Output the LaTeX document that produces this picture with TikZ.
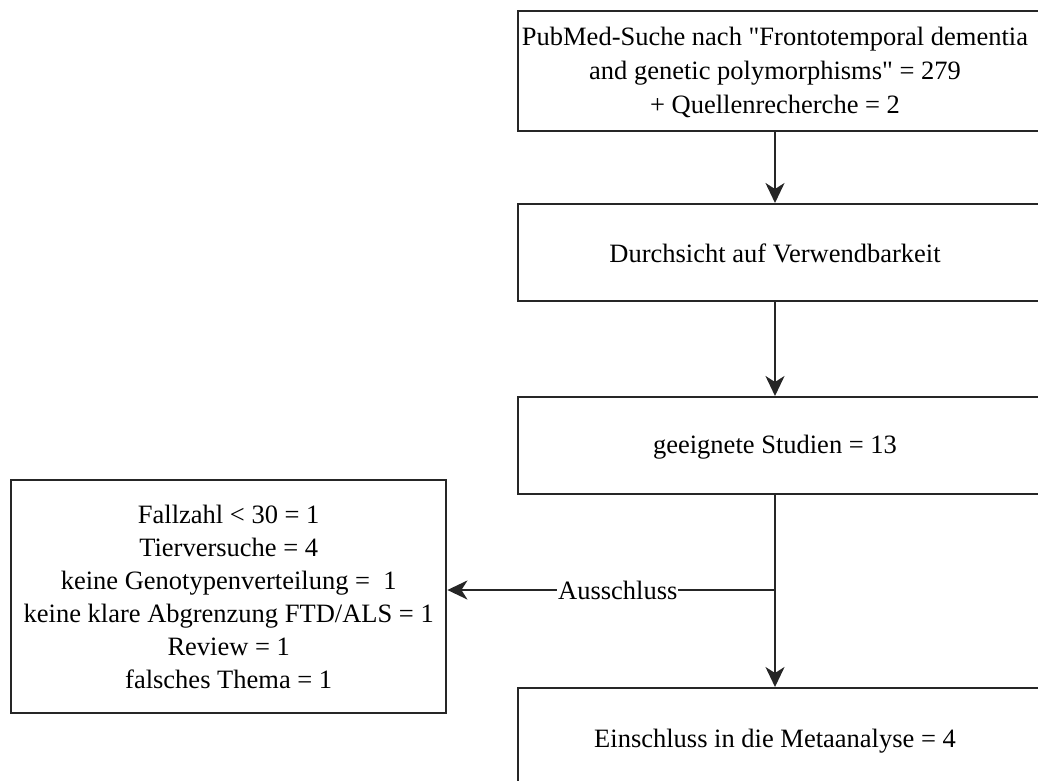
\documentclass[tikz,border=0pt]{standalone}
\usepackage{fontspec}
\setmainfont{Liberation Serif}[Ligatures=TeXOff]
\usetikzlibrary{arrows.meta}
\begin{document}
\begin{tikzpicture}[x=1pt,y=-1pt,
  box/.style={draw=black!85, line width=2.4pt, fill=white, rectangle, inner sep=0pt},
  txt/.style={align=center, inner sep=0pt, font=\fontsize{26.5}{34}\selectfont},
  conn/.style={line width=2.2pt, draw=black!85,
    -{Stealth[length=20pt,width=19pt,inset=6pt]}}
]
\useasboundingbox (0,0) rectangle (1038,780);
\clip (0,0) rectangle (1038,780);
\coordinate (ax) at (775,0);

% main column of boxes (the right edges run past the page)
\node[box, anchor=north west, minimum width=540pt, minimum height=120pt] (b1) at (517,10) {};
\node[box, anchor=north west, minimum width=540pt, minimum height=97pt]  (b2) at (517,203) {};
\node[box, anchor=north west, minimum width=540pt, minimum height=97pt]  (b3) at (517,396) {};
\node[box, anchor=north west, minimum width=540pt, minimum height=113pt] (b4) at (517,687) {};

% exclusion box
\node[box, anchor=north west, minimum width=435pt, minimum height=233pt] (ex) at (10,479) {};

% box texts
\node[txt] (t1) at (775,72) {PubMed-Suche nach "Frontotemporal dementia\\and genetic polymorphisms" = 279\\+ Quellenrecherche = 2};
\node[txt] (t2) at (775,253) {Durchsicht auf Verwendbarkeit};
\node[txt] (t3) at (775,447) {geeignete Studien = 13};
\node[txt] (t4) at (775,741) {Einschluss in die Metaanalyse = 4};
\node[txt, font=\fontsize{26.5}{33}\selectfont] (tex) at (ex.center) {Fallzahl < 30 = 1\\Tierversuche = 4\\keine Genotypenverteilung =\ \ 1\\keine klare Abgrenzung FTD/ALS = 1\\Review = 1\\falsches Thema = 1};

% connectors
\draw[conn] (b1.south -| ax) -- (b2.north -| ax);
\draw[conn] (b2.south -| ax) -- (b3.north -| ax);
\draw[conn] (b3.south -| ax) -- (b4.north -| ax);
\coordinate (split) at (775,590);
\draw[conn] (split) -- node[pos=0.48, fill=white, inner sep=1pt, font=\fontsize{26.5}{34}\selectfont] (lab) {Ausschluss} (ex.east |- split);
\end{tikzpicture}
\end{document}
